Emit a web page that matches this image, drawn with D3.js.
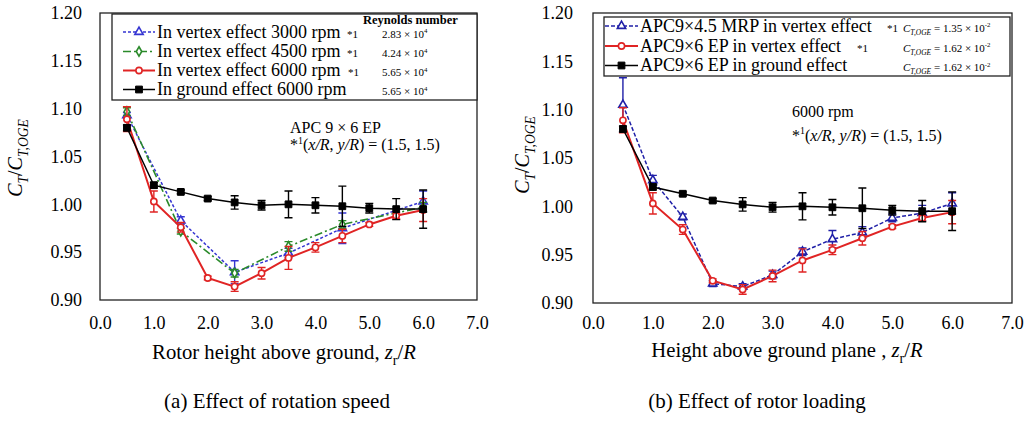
<!DOCTYPE html>
<html>
<head>
<meta charset="utf-8">
<script src="https://cdn.jsdelivr.net/npm/d3@7"></script>
<style>
  body { margin: 0; background: #fff; }
  svg { display: block; }
  text { font-family: "Liberation Serif", "Times New Roman", serif; fill: #000; }
</style>
</head>
<body>
<svg id="chart" width="1029" height="421"></svg>
<script>
// Rotor height above ground z_r/R for the full measurement sweep
const heights = [0.5, 1.0, 1.5, 2.0, 2.5, 3.0, 3.5, 4.0, 4.5, 5.0, 5.5, 6.0];
// Reduced sweep used for the 3000 / 4500 rpm vortex runs
const sparseHeights = [0.5, 1.5, 2.5, 3.5, 4.5, 6.0];

// APC 9x6 EP, in ground effect, 6000 rpm
const groundCT  = [1.080, 1.020, 1.013, 1.006, 1.002, 0.999, 1.000, 0.999, 0.998, 0.996, 0.995, 0.995];
const groundErr = [0.003, 0.003, 0.002, 0.002, 0.007, 0.005, 0.014, 0.008, 0.021, 0.005, 0.011, 0.020];
// APC 9x6 EP, in vortex effect, 6000 rpm
const vortex6000CT  = [1.089, 1.003, 0.976, 0.923, 0.914, 0.928, 0.944, 0.955, 0.967, 0.979, 0.988, 0.994];
const vortex6000Err = [0.013, 0.011, 0.005, 0.002, 0.005, 0.006, 0.012, 0.005, 0.007, 0.002, 0.003, 0.012];
// APC 9x6 EP, in vortex effect, 3000 rpm
const vortex3000CT  = [1.093, 0.983, 0.929, 0.949, 0.975, 1.003];
const vortex3000Err = [0.003, 0.004, 0.012, 0.005, 0.016, 0.011];
// APC 9x6 EP, in vortex effect, 4500 rpm
const vortex4500CT  = [1.097, 0.972, 0.928, 0.956, 0.979, 0.997];
const vortex4500Err = [0.004, 0.003, 0.004, 0.005, 0.004, 0.005];
// APC 9x4.5 MRP, in vortex effect, 6000 rpm
const mrpCT  = [1.105, 1.027, 0.989, 0.920, 0.917, 0.929, 0.953, 0.966, 0.973, 0.988, 0.993, 1.003];
const mrpErr = [0.028, 0.005, 0.003, 0.003, 0.003, 0.004, 0.004, 0.009, 0.006, 0.004, 0.008, 0.011];

const xTicks = [0, 1, 2, 3, 4, 5, 6, 7];
const yTicks = [0.90, 0.95, 1.00, 1.05, 1.10, 1.15, 1.20];

const SERIF = '"Liberation Serif", "Times New Roman", serif';
const svg = d3.select('#chart');

// Rich text helper: parts = [[string, flags]], flags: i = italic, b = subscript, p = superscript
function rich(textSel, parts, fs) {
  let shift = 0;
  parts.forEach(([str, st = '']) => {
    const t = textSel.append('tspan').text(str);
    let target = 0, size = fs;
    if (st.includes('b')) { target = 0.28 * fs; size = 0.68 * fs; }
    if (st.includes('p')) { target = -0.4 * fs; size = 0.62 * fs; }
    if (st.includes('i')) t.attr('font-style', 'italic');
    if (size !== fs) t.attr('font-size', size);
    if (target !== shift) { t.attr('dy', target - shift); shift = target; }
  });
}

function addText(g, x, y, parts, fs, opts = {}) {
  const t = g.append('text').attr('x', x).attr('y', y).attr('font-size', fs)
    .style('font-family', SERIF);
  if (opts.anchor) t.attr('text-anchor', opts.anchor);
  if (opts.weight) t.attr('font-weight', opts.weight);
  if (opts.transform) t.attr('transform', opts.transform).attr('x', 0).attr('y', 0);
  rich(t, parts, fs);
  return t;
}

const symbolFor = {
  square: d3.symbol(d3.symbolSquare, 46),
  circle: d3.symbol(d3.symbolCircle, 30),
  triangle: d3.symbol(d3.symbolTriangle, 30),
  diamond: d3.symbol(d3.symbolDiamond, 26)
};

function drawMarker(g, cx, cy, s) {
  g.append('path')
    .attr('d', symbolFor[s.marker]())
    .attr('transform', `translate(${cx},${cy})`)
    .attr('fill', s.marker === 'square' ? s.color : '#fff')
    .attr('stroke', s.color)
    .attr('stroke-width', s.marker === 'square' ? 1 : 1.6);
}

function panel(cfg) {
  const x = d3.scaleLinear().domain([0, 7]).range([cfg.left, cfg.right]);
  const y = d3.scaleLinear().domain([0.9, 1.2]).range([cfg.bottom, cfg.top]);
  const g = svg.append('g');

  // Axes without tick marks, labels only
  const yAxis = d3.axisLeft(y).tickValues(yTicks).tickSize(0).tickPadding(cfg.yPad)
    .tickFormat(d3.format('.2f'));
  g.append('g').attr('transform', `translate(${cfg.left},0)`).call(yAxis)
    .attr('font-family', SERIF).attr('font-size', 18)
    .call(a => a.select('.domain').remove())
    .selectAll('text').attr('fill', '#000');

  const xAxis = d3.axisBottom(x).tickValues(xTicks).tickSize(0).tickPadding(cfg.xPad)
    .tickFormat(d3.format('.1f'));
  g.append('g').attr('transform', `translate(0,${cfg.bottom})`).call(xAxis)
    .attr('font-family', SERIF).attr('font-size', 18)
    .call(a => a.select('.domain').remove())
    .selectAll('text').attr('fill', '#000');

  // Plot frame
  g.append('rect')
    .attr('x', cfg.left).attr('y', cfg.top)
    .attr('width', cfg.right - cfg.left).attr('height', cfg.bottom - cfg.top)
    .attr('fill', 'none').attr('stroke', '#222').attr('stroke-width', 1.3);

  // Data series
  cfg.series.forEach(s => {
    const pts = s.x.map((h, i) => ({ h, v: s.v[i], e: s.e[i] }));
    const sg = g.append('g');
    sg.selectAll('path.err').data(pts).join('path').attr('class', 'err')
      .attr('d', d => {
        const xx = x(d.h), y1 = y(d.v + d.e), y2 = y(d.v - d.e);
        return `M${xx - 4},${y1}H${xx + 4}M${xx},${y1}V${y2}M${xx - 4},${y2}H${xx + 4}`;
      })
      .attr('fill', 'none').attr('stroke', s.color).attr('stroke-width', 1.4);
    sg.append('path').datum(pts)
      .attr('d', d3.line().x(d => x(d.h)).y(d => y(d.v)))
      .attr('fill', 'none').attr('stroke', s.color).attr('stroke-width', s.width)
      .attr('stroke-dasharray', s.dash || null);
    pts.forEach(d => drawMarker(sg, x(d.h), y(d.v), s));
  });

  // Legend box
  const lg = g.append('g');
  const L = cfg.legend;
  lg.append('rect').attr('x', L.x).attr('y', L.y).attr('width', L.w).attr('height', L.h)
    .attr('fill', '#fff').attr('stroke', '#222').attr('stroke-width', 1.3);
  L.rows.forEach(r => {
    const s = r.series;
    lg.append('line').attr('x1', L.sx0).attr('x2', L.sx1).attr('y1', r.y - 5.5).attr('y2', r.y - 5.5)
      .attr('stroke', s.color).attr('stroke-width', s.width).attr('stroke-dasharray', s.dash || null);
    drawMarker(lg, (L.sx0 + L.sx1) / 2, r.y - 5.5, s);
    addText(lg, L.tx, r.y, [[s.label]], 18);
    if (r.note) addText(lg, r.noteX, r.y, [['*1']], 11);
    if (r.extra) addText(lg, L.ex, r.y, r.extra, 11);
  });
  if (L.header) addText(lg, L.header.x, L.header.y, [[L.header.text]], 12.5, { weight: 'bold' });

  // Annotations, axis titles, caption
  cfg.notes.forEach(n => addText(g, n.x, n.y, n.parts, 16));
  addText(g, cfg.xTitle.x, cfg.xTitle.y, cfg.xTitle.parts, 20.7, { anchor: 'middle' });
  addText(g, 0, 0, [['C', 'i'], ['T', 'ib'], ['/'], ['C', 'i'], ['T,OGE', 'ib']], 20,
    { anchor: 'middle', transform: `translate(${cfg.yTitle.x},${cfg.yTitle.y}) rotate(-90)` });
  addText(g, cfg.caption.x, cfg.caption.y, [[cfg.caption.text]], 21, { anchor: 'middle' });
}

const sGround = { label: 'In ground effect 6000 rpm', x: heights, v: groundCT, e: groundErr,
  color: '#000', width: 1.5, marker: 'square' };
const sV6000 = { label: 'In vertex effect 6000 rpm', x: heights, v: vortex6000CT, e: vortex6000Err,
  color: '#e02424', width: 2, marker: 'circle' };
const sV3000 = { label: 'In vertex effect 3000 rpm', x: sparseHeights, v: vortex3000CT, e: vortex3000Err,
  color: '#3535d2', width: 1.5, dash: '3,2', marker: 'triangle' };
const sV4500 = { label: 'In vertex effect 4500 rpm', x: sparseHeights, v: vortex4500CT, e: vortex4500Err,
  color: '#2a8a2a', width: 1.6, dash: '8,3,2,3', marker: 'diamond' };

const ctOge = val => [['C', 'i'], ['T,OGE', 'ib'], [' = ' + val + ' × 10'], ['-2', 'p']];
const re4 = val => [[val + ' × 10'], ['4', 'p']];

// (a) Effect of rotation speed
panel({
  left: 100, right: 477, top: 13, bottom: 300, yPad: 18, xPad: 16,
  series: [sV3000, sV4500, sV6000, sGround],
  legend: {
    x: 112, y: 14, w: 365, h: 86, sx0: 123, sx1: 155, tx: 157, ex: 382,
    header: { x: 363, y: 24, text: 'Reynolds number' },
    rows: [
      { series: sV3000, y: 37.5, note: true, noteX: 347, extra: re4('2.83') },
      { series: sV4500, y: 57, note: true, noteX: 347, extra: re4('4.24') },
      { series: sV6000, y: 76, note: true, noteX: 348, extra: re4('5.65') },
      { series: sGround, y: 95, extra: re4('5.65') }
    ]
  },
  notes: [
    { x: 290, y: 132.5, parts: [['APC 9 × 6 EP']] },
    { x: 290, y: 150, parts: [['*'], ['1', 'p'], ['('], ['x/R', 'i'], [', '], ['y/R', 'i'], [') = (1.5, 1.5)']] }
  ],
  xTitle: { x: 284, y: 359, parts: [['Rotor height above ground, '], ['z', 'i'], ['r', 'b'], ['/'], ['R', 'i']] },
  yTitle: { x: 22, y: 158 },
  caption: { x: 277, y: 408, text: '(a) Effect of rotation speed' }
});

const sMrp = { label: 'APC9×4.5 MRP in vertex effect', x: heights, v: mrpCT, e: mrpErr,
  color: '#2020a8', width: 1.5, dash: '4,2', marker: 'triangle' };
const sEpV = Object.assign({}, sV6000, { label: 'APC9×6 EP in vertex effect' });
const sEpG = Object.assign({}, sGround, { label: 'APC9×6 EP in ground effect' });

// (b) Effect of rotor loading
panel({
  left: 593, right: 1012, top: 13, bottom: 303, yPad: 20, xPad: 13,
  series: [sMrp, sEpV, sEpG],
  legend: {
    x: 604, y: 17, w: 406, h: 59, sx0: 605, sx1: 638, tx: 640, ex: 903,
    rows: [
      { series: sMrp, y: 31.5, note: true, noteX: 887, extra: ctOge('1.35') },
      { series: sEpV, y: 51.5, note: true, noteX: 857, extra: ctOge('1.62') },
      { series: sEpG, y: 71, extra: ctOge('1.62') }
    ]
  },
  notes: [
    { x: 792, y: 117, parts: [['6000 rpm']] },
    { x: 792, y: 140.5, parts: [['*'], ['1', 'p'], ['('], ['x/R', 'i'], [', '], ['y/R', 'i'], [') = (1.5, 1.5)']] }
  ],
  xTitle: { x: 787, y: 357, parts: [['Height above ground plane , '], ['z', 'i'], ['r', 'b'], ['/'], ['R', 'i']] },
  yTitle: { x: 529, y: 155 },
  caption: { x: 757, y: 408, text: '(b) Effect of rotor loading' }
});
</script>
</body>
</html>
